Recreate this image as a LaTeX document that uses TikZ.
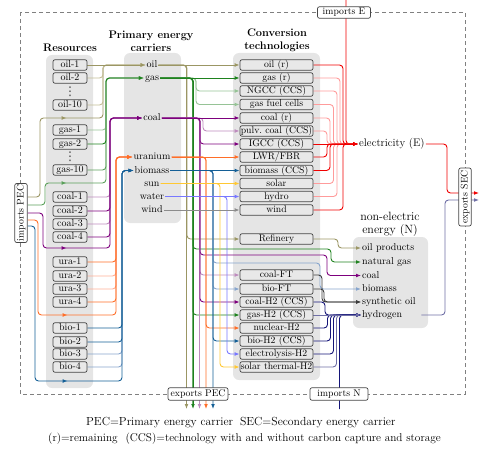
\documentclass[tikz,border=0pt]{standalone}
\usepackage{fontspec}
\newfontfamily\djv{DejaVu Sans}
\usetikzlibrary{arrows.meta,decorations.markings}
\pgfdeclarelayer{bg}
\pgfdeclarelayer{ln}
\pgfsetlayers{bg,ln,main}
\definecolor{oilc}{RGB}{155,150,100}
\definecolor{oill}{RGB}{195,190,150}
\definecolor{gasc}{RGB}{30,130,30}
\definecolor{gasm}{RGB}{90,160,90}
\definecolor{gasl}{RGB}{150,195,150}
\definecolor{coalc}{RGB}{125,0,125}
\definecolor{coall}{RGB}{190,140,190}
\definecolor{urac}{RGB}{255,110,40}
\definecolor{ural}{RGB}{255,175,150}
\definecolor{bioc}{RGB}{20,95,150}
\definecolor{biol}{RGB}{135,165,205}
\definecolor{sunc}{RGB}{255,200,50}
\definecolor{watc}{RGB}{120,120,255}
\definecolor{winc}{RGB}{140,140,140}
\definecolor{elc}{RGB}{240,0,0}
\definecolor{ell}{RGB}{255,155,155}
\definecolor{h2c}{RGB}{20,20,120}
\definecolor{h2l}{RGB}{110,110,165}
\definecolor{sync}{RGB}{60,60,60}
\definecolor{grp}{RGB}{229,229,229}
\definecolor{boxf}{RGB}{232,232,232}
\definecolor{boxd}{RGB}{70,70,70}
\begin{document}
\begin{tikzpicture}[x=1pt,y=-1pt,
  grpbox/.style={fill=grp, rounded corners=6pt},
  resbox/.style={draw=boxd, fill=boxf, rounded corners=2pt, line width=0.7pt, minimum width=34pt, minimum height=10.5pt, inner sep=0pt, text height=7pt, text depth=2pt, font=\fontsize{10}{10}\selectfont},
  convbox/.style={resbox, minimum width=73pt, font=\fontsize{9.7}{10}\selectfont},
  iobox/.style={draw=boxd, fill=white, rounded corners=2pt, line width=0.7pt, minimum width=58pt, minimum height=12.5pt, inner sep=0pt, text height=7pt, text depth=2pt, font=\fontsize{9.7}{10}\selectfont},
  lbl/.style={inner sep=1pt, text height=7pt, text depth=2pt, font=\fontsize{10}{10}\selectfont},
  ttl/.style={align=center, font=\bfseries\fontsize{11}{12.5}\selectfont},
  dotsty/.style={inner sep=0pt, text=black!75, font=\djv\fontsize{12}{12}\selectfont},
  conn/.style={line width=0.9pt, rounded corners=3.5pt},
  arr/.style={conn, -{Latex[length=5pt,width=3.8pt]}},
  midarr/.style={conn, postaction={decorate}, decoration={markings, mark=at position #1 with {\arrow{Latex[length=5pt,width=3.8pt]}}}},
]
\useasboundingbox (0,0) rectangle (486,449);

% ---------- resources
\node[ttl] (tres) at (70,48) {Resources};
\node[resbox] (oil1) at (70,65) {oil-1};
\node[resbox] (oil2) at (70,78) {oil-2};
\node[dotsty] (dots1) at (70,91.5) {⋮};
\node[resbox] (oil10) at (70,105) {oil-10};
\node[resbox] (gas1) at (70,130) {gas-1};
\node[resbox] (gas2) at (70,144) {gas-2};
\node[dotsty] (dots2) at (70,157) {⋮};
\node[resbox] (gas10) at (70,170) {gas-10};
\node[resbox] (coal1) at (70,197) {coal-1};
\node[resbox] (coal2) at (70,211) {coal-2};
\node[resbox] (coal3) at (70,224) {coal-3};
\node[resbox] (coal4) at (70,237) {coal-4};
\node[resbox] (ura1) at (70,262) {ura-1};
\node[resbox] (ura2) at (70,276) {ura-2};
\node[resbox] (ura3) at (70,289) {ura-3};
\node[resbox] (ura4) at (70,302) {ura-4};
\node[resbox] (bio1) at (70,328) {bio-1};
\node[resbox] (bio2) at (70,342) {bio-2};
\node[resbox] (bio3) at (70,354) {bio-3};
\node[resbox] (bio4) at (70,367) {bio-4};

% ---------- primary energy carriers
\node[ttl] (tpec) at (151,41.5) {Primary energy\\carriers};
\node[lbl] (poil) at (152,65) {oil};
\node[lbl] (pgas) at (152,78) {gas};
\node[lbl] (pcoal) at (152,118) {coal};
\node[lbl] (pura) at (152,157) {uranium};
\node[lbl] (pbio) at (152,170.5) {biomass};
\node[lbl] (psun) at (152,183.5) {sun};
\node[lbl] (pwat) at (152,196.5) {water};
\node[lbl] (pwin) at (152,210) {wind};

% ---------- conversion technologies
\node[ttl] (tconv) at (277,40.5) {Conversion\\technologies};
\node[convbox] (c1) at (276.5,65) {oil (r)};
\node[convbox] (c2) at (276.5,78) {gas (r)};
\node[convbox] (c3) at (276.5,91) {NGCC (CCS)};
\node[convbox] (c4) at (276.5,104.5) {gas fuel cells};
\node[convbox] (c5) at (276.5,118) {coal (r)};
\node[convbox] (c6) at (276.5,131) {pulv.\ coal (CCS)};
\node[convbox] (c7) at (276.5,144) {IGCC (CCS)};
\node[convbox] (c8) at (276.5,157) {LWR/FBR};
\node[convbox] (c9) at (276.5,170.5) {biomass (CCS)};
\node[convbox] (c10) at (276.5,183.5) {solar};
\node[convbox] (c11) at (276.5,196.5) {hydro};
\node[convbox] (c12) at (276.5,210) {wind};
\node[convbox] (cref) at (276.5,239) {Refinery};
\node[convbox] (ccft) at (276.5,275) {coal-FT};
\node[convbox] (cbft) at (276.5,289) {bio-FT};
\node[convbox] (cch2) at (276.5,302) {coal-H2 (CCS)};
\node[convbox] (cgh2) at (276.5,315) {gas-H2 (CCS)};
\node[convbox] (cnh2) at (276.5,328) {nuclear-H2};
\node[convbox] (cbh2) at (276.5,341) {bio-H2 (CCS)};
\node[convbox] (ceh2) at (276.5,354) {electrolysis-H2};
\node[convbox] (csh2) at (276.5,367) {solar thermal-H2};

% ---------- secondary energy
\node[inner sep=1pt, anchor=west, text height=7.5pt, text depth=2.2pt, font=\fontsize{11}{11}\selectfont] (elec) at (358,144) {electricity (E)};
\node[align=center, font=\fontsize{12}{13}\selectfont] (tn) at (390,224.5) {non-electric\\energy (N)};
\node[lbl, anchor=west] (noil) at (361,248) {oil products};
\node[lbl, anchor=west] (ngas) at (361,262) {natural gas};
\node[lbl, anchor=west] (ncoal) at (361,275.5) {coal};
\node[lbl, anchor=west] (nbio) at (361,289) {biomass};
\node[lbl, anchor=west] (nsyn) at (361,302) {synthetic oil};
\node[lbl, anchor=west] (nh2) at (361,315) {hydrogen};

% ---------- import / export boxes
\node[iobox, minimum width=53pt, minimum height=11.5pt] (iE) at (344,12.5) {imports E};
\node[iobox, rotate=90, minimum width=59pt] (impPEC) at (21,213) {imports PEC};
\node[iobox, minimum width=60pt] (ePEC) at (198,394) {exports PEC};
\node[iobox] (iN) at (339,394) {imports N};
\node[iobox, rotate=90] (eSEC) at (465,197) {exports SEC};

% ---------- captions
\node[anchor=west, inner sep=0pt, font=\fontsize{11.7}{12}\selectfont] (cap1) at (86,423) {PEC=Primary energy carrier\hspace{7pt}SEC=Secondary energy carrier};
\node[anchor=west, inner sep=0pt, font=\fontsize{11.3}{12}\selectfont] (cap2) at (48,439) {(r)=remaining\hspace{8pt}(CCS)=technology with and without carbon capture and storage};

\coordinate (etop) at (346,0);
\coordinate (eout) at (479,193);
\coordinate (hout) at (479,200);
\coordinate (nbot) at (339.5,409);
\coordinate (xo1) at (186.5,409);
\coordinate (xo2) at (193,409);
\coordinate (xo3) at (199.5,409);
\coordinate (xo4) at (206,409);
\coordinate (xo5) at (213,409);

\begin{pgfonlayer}{bg}
\draw[gray, line width=0.7pt, dash pattern=on 4pt off 3pt] (20,12) rectangle (465,394);
\fill[grpbox] (46,55) rectangle (93,388);
\fill[grpbox] (124,53) rectangle (181,223);
\fill[grpbox] (233,53) rectangle (320,380);
\fill[grpbox] (353,237) rectangle (428,328);
\end{pgfonlayer}

\begin{pgfonlayer}{ln}
% resources -> primary
\draw[arr, midarr=115pt, oilc] ([yshift=16pt]impPEC.south) -| (40,118) -| (103,65) -- (poil.west);
\draw[arr, oill] (oil10.east) -| (103,65) -- (poil.west);
\draw[arr, oill] (oil2.east) -| (103,65) -- (poil.west);
\draw[arr, oilc] (oil1.east) -- (poil.west);

\draw[arr, midarr=58pt, gasm] ([yshift=8pt]impPEC.south) -| (45,183) -| (106,78) -- (pgas.west);
\draw[arr, gasm] (gas10.east) -| (106,78) -- (pgas.west);
\draw[arr, gasl] (gas1.east) -| (106,78) -- (pgas.west);
\draw[arr, gasc] (gas2.east) -| (106,78) -- (pgas.west);

\draw[arr, coall] (coal1.east) -| (110,118) -- (pcoal.west);
\draw[arr, coall] (coal3.east) -| (110,118) -- (pcoal.west);
\draw[arr, midarr=71pt, coalc] (impPEC.south) -| (43,248) -| (110,118) -- (pcoal.west);
\draw[arr, coalc] (coal4.east) -| (110,118) -- (pcoal.west);
\draw[arr, coalc] (coal2.east) -| (110,118) -- (pcoal.west);

\draw[arr, ural] (ura2.east) -| (116,157) -- (pura.west);
\draw[arr, ural] (ura3.east) -| (116,157) -- (pura.west);
\draw[arr, midarr=132pt, urac] ([yshift=-7pt]impPEC.south) -| (38,315) -| (116,157) -- (pura.west);
\draw[arr, urac] (ura4.east) -| (116,157) -- (pura.west);
\draw[arr, urac] (ura1.east) -| (116,157) -- (pura.west);

\draw[arr, biol] (bio3.east) -| (122,170.5) -- (pbio.west);
\draw[arr, biol] (bio4.east) -| (122,170.5) -- (pbio.west);
\draw[arr, midarr=192pt, bioc] ([yshift=-13pt]impPEC.south) -| (35,381) -| (122,170.5) -- (pbio.west);
\draw[arr, bioc] (bio2.east) -| (122,170.5) -- (pbio.west);
\draw[arr, bioc] (bio1.east) -| (122,170.5) -- (pbio.west);

% primary -> conversion / N / exports
\draw[arr, oilc] (poil.east) -| (xo1);
\draw[arr, oilc] (poil.east) -| (187,239) -- (cref.west);
\draw[arr, oilc] (poil.east) -- (c1.west);

\draw[arr, gasc, line width=1.5pt] (pgas.east) -| (xo2);
\draw[arr, gasl] (pgas.east) -| (196,91) -- (c3.west);
\draw[arr, gasl] (pgas.east) -| (196,104.5) -- (c4.west);
\draw[arr, gasc] (pgas.east) -| (193,249) -| (331,262) -- (ngas.west);
\draw[arr, gasc] (pgas.east) -| (193,315) -- (cgh2.west);
\draw[arr, gasc] (pgas.east) -- (c2.west);

\draw[arr, coall] (pcoal.east) -| (xo3);
\draw[arr, coall] (pcoal.east) -| (203,131) -- (c6.west);
\draw[arr, coalc] (pcoal.east) -| (200,144) -- (c7.west);
\draw[arr, coalc] (pcoal.east) -| (200,255) -| (327,275.5) -- (ncoal.west);
\draw[arr, coall] (pcoal.east) -| (200,275) -- (ccft.west);
\draw[arr, coalc] (pcoal.east) -| (200,302) -- (cch2.west);
\draw[arr, coalc] (pcoal.east) -- (c5.west);

\draw[arr, urac] (pura.east) -| (xo4);
\draw[arr, urac] (pura.east) -| (206,328) -- (cnh2.west);
\draw[arr, urac] (pura.east) -- (c8.west);

\draw[arr, bioc] (pbio.east) -| (xo5);
\draw[arr, biol] (pbio.east) -| (213,263) -| (320,289) -- (nbio.west);
\draw[arr, biol] (pbio.east) -| (213,289) -- (cbft.west);
\draw[arr, bioc] (pbio.east) -| (213,341) -- (cbh2.west);
\draw[arr, bioc] (pbio.east) -- (c9.west);

\draw[arr, sunc] (psun.east) -| (220,367) -- (csh2.west);
\draw[arr, sunc] (psun.east) -- (c10.west);
\draw[arr, watc] (pwat.east) -| (227,354) -- (ceh2.west);
\draw[arr, watc] (pwat.east) -- (c11.west);
\draw[arr, winc] (pwin.east) -- (c12.west);

% conversion -> electricity
\draw[arr, elc] (etop) |- (elec.west);
\draw[arr, ell] (c2.east) -| (340,144) -- (elec.west);
\draw[arr, ell] (c3.east) -| (337,144) -- (elec.west);
\draw[arr, ell] (c4.east) -| (333.5,144) -- (elec.west);
\draw[arr, ell] (c5.east) -| (330,144) -- (elec.west);
\draw[arr, ell] (c6.east) -| (327,144) -- (elec.west);
\draw[arr, ell] (c10.east) -| (333.5,144) -- (elec.west);
\draw[arr, ell] (c11.east) -| (337,144) -- (elec.west);
\draw[arr, elc] (c1.east) -| (343,144) -- (elec.west);
\draw[arr, elc] (c8.east) -| (327,144) -- (elec.west);
\draw[arr, elc] (c9.east) -| (330,144) -- (elec.west);
\draw[arr, elc] (c12.east) -| (343,144) -- (elec.west);
\draw[arr, elc] (c7.east) -- (elec.west);

% conversion -> N
\draw[arr, oilc] (cref.east) -| (338,248) -- (noil.west);
\draw[arr, sync] (ccft.east) -| (322,302) -- (nsyn.west);
\draw[arr, sync] (cbft.east) -| (324,302) -- (nsyn.west);
\draw[arr, h2c] (nbot) |- (nh2.west);
\draw[arr, h2l] (csh2.east) -| (336.5,315) -- (nh2.west);
\draw[arr, h2c] (ceh2.east) -| (333.5,315) -- (nh2.west);
\draw[arr, h2c] (cbh2.east) -| (330.5,315) -- (nh2.west);
\draw[arr, h2c] (cnh2.east) -| (327.5,315) -- (nh2.west);
\draw[arr, h2c] (cch2.east) -| (325,315) -- (nh2.west);
\draw[arr, h2l] (cgh2.east) -- (nh2.west);

% exports SEC
\draw[arr, elc] (elec.east) -| (447,193) -- (eout);
\draw[arr, h2l] ([xshift=18pt]nh2.east) -| (445,200) -- (hout);
\end{pgfonlayer}
\end{tikzpicture}
\end{document}
